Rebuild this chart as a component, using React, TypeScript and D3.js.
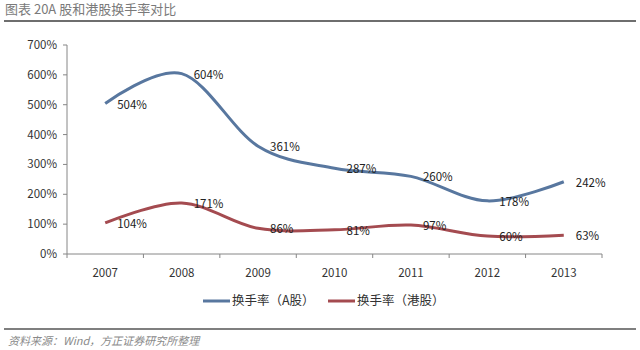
import React from 'react';
import * as d3 from 'd3';

const years = ['2007', '2008', '2009', '2010', '2011', '2012', '2013'];
const aShare = [504, 604, 361, 287, 260, 178, 242];
const hkShare = [104, 171, 86, 81, 97, 60, 63];
const yTicks = [0, 100, 200, 300, 400, 500, 600, 700];

const series = [
  { name: '换手率（A股）', values: aShare, color: '#58779f' },
  { name: '换手率（港股）', values: hkShare, color: '#a44b50' },
];

const font = '"Noto Sans CJK SC", "Noto Sans", sans-serif';

const App = () => {
  const margin = { top: 45, right: 38, bottom: 96, left: 67 };
  const width = 640;
  const height = 350;

  const x = d3
    .scaleBand()
    .domain(years)
    .range([margin.left, width - margin.right]);

  const y = d3
    .scaleLinear()
    .domain([0, 700])
    .range([height - margin.bottom, margin.top]);

  const cx = (d) => x(d) + x.bandwidth() / 2;

  // Excel-style smoothed line
  const line = d3
    .line()
    .x((d, i) => cx(years[i]))
    .y((d) => y(d))
    .curve(d3.curveCardinal.tension(0));

  const baseY = y(0);
  const bounds = [...years.map((d) => x(d)), x(years[years.length - 1]) + x.bandwidth()];

  return (
    <svg width={width} height={height} style={{ position: 'absolute', left: 0, top: 0, background: '#fff' }}>
      {/* header */}
      <text x={5} y={14} fontFamily={font} fontSize={13} fill="#7a7a7a">图表 20A 股和港股换手率对比</text>
      <line x1={4} x2={636} y1={21} y2={21} stroke="#6e6e6e" strokeWidth={2} />

      {/* y axis */}
      <line x1={margin.left} x2={margin.left} y1={y(700)} y2={baseY} stroke="#868686" />
      {yTicks.map((t) => (
        <g key={t}>
          <line x1={margin.left - 4} x2={margin.left} y1={y(t)} y2={y(t)} stroke="#868686" />
          <text x={margin.left - 10} y={y(t)} dy="0.35em" textAnchor="end" fontFamily={font} fontSize={11.5} fill="#333">
            {t}%
          </text>
        </g>
      ))}

      {/* x axis */}
      <line x1={margin.left} x2={width - margin.right} y1={baseY} y2={baseY} stroke="#868686" />
      {bounds.map((b, i) => (
        <line key={i} x1={b} x2={b} y1={baseY} y2={baseY + 4} stroke="#868686" />
      ))}
      {years.map((d) => (
        <text key={d} x={cx(d)} y={baseY + 19} dy="0.35em" textAnchor="middle" fontFamily={font} fontSize={11.5} fill="#333">
          {d}
        </text>
      ))}

      {/* lines */}
      {series.map((s) => (
        <path key={s.name} d={line(s.values)} fill="none" stroke={s.color} strokeWidth={3} />
      ))}

      {/* data labels */}
      {series.map((s) =>
        s.values.map((v, i) => (
          <text key={s.name + i} x={cx(years[i]) + 12} y={y(v) + 1} dy="0.35em" fontFamily={font} fontSize={11.5} fill="#222">
            {v}%
          </text>
        ))
      )}

      {/* legend */}
      {series.map((s, i) => {
        const lx = 203 + i * 125;
        return (
          <g key={s.name}>
            <line x1={lx} x2={lx + 27} y1={301} y2={301} stroke={s.color} strokeWidth={3} />
            <text x={lx + 29} y={301} dy="0.35em" fontFamily={font} fontSize={12.5} fill="#333">{s.name}</text>
          </g>
        );
      })}

      {/* footer */}
      <line x1={4} x2={636} y1={329} y2={329} stroke="#555" strokeWidth={1.5} />
      <text x={8} y={345} fontFamily={font} fontSize={11} fontStyle="italic" fill="#8a8a8a">资料来源：Wind，方正证券研究所整理</text>
    </svg>
  );
};

export default App;
